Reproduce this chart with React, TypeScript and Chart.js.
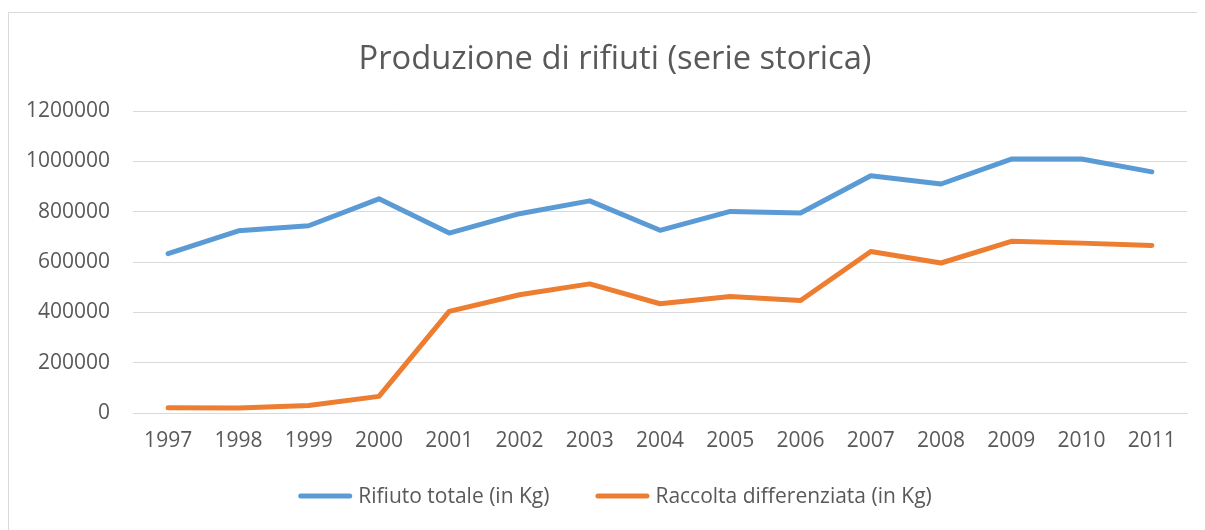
import React, { useEffect, useRef } from "react";
import { Chart, registerables } from "chart.js";

Chart.register(...registerables);

const years = ["1997","1998","1999","2000","2001","2002","2003","2004","2005","2006","2007","2008","2009","2010","2011"];
const rifiutoTotale = [633000, 724000, 744000, 851000, 715000, 792000, 843000, 726000, 801000, 795000, 943000, 910000, 1009000, 1009000, 958000];
const raccoltaDifferenziata = [21000, 20000, 30000, 66000, 404000, 470000, 513000, 434000, 463000, 447000, 642000, 596000, 682000, 675000, 666000];
const titleText = "Produzione di rifiuti (serie storica)";
const seriesLabels = ["Rifiuto totale (in Kg)", "Raccolta differenziata (in Kg)"];

const FONT = "'Open Sans', 'DejaVu Sans', sans-serif";
const TEXT = "#595959";

// Title and legend drawn in the canvas (Excel-style), centred on the whole chart frame
const frameText = {
  id: "frameText",
  afterDraw(chart: any) {
    const ctx = chart.ctx as CanvasRenderingContext2D;
    const cx = 606;
    ctx.save();
    // title
    ctx.font = `32.7px ${FONT}`;
    ctx.fillStyle = TEXT;
    ctx.textAlign = "center";
    ctx.textBaseline = "middle";
    ctx.fillText(titleText, cx, 47);
    // legend
    const fontSize = 21;
    const sample = 54;
    const gapText = 6;
    const gapItems = 46;
    ctx.font = `${fontSize}px ${FONT}`;
    const items = chart.data.datasets.map((ds: any) => ({
      text: ds.label as string,
      color: ds.borderColor as string,
      w: ctx.measureText(ds.label).width,
    }));
    const total = items.reduce((s: number, it: any) => s + sample + gapText + it.w, 0) + gapItems * (items.length - 1);
    let x = cx - total / 2;
    const y = 483;
    items.forEach((it: any) => {
      ctx.strokeStyle = it.color;
      ctx.lineWidth = 5;
      ctx.lineCap = "round";
      ctx.beginPath();
      ctx.moveTo(x + 2.5, y);
      ctx.lineTo(x + sample - 2.5, y);
      ctx.stroke();
      ctx.fillStyle = TEXT;
      ctx.textAlign = "left";
      ctx.textBaseline = "middle";
      ctx.fillText(it.text, x + sample + gapText, y + 1);
      x += sample + gapText + it.w + gapItems;
    });
    ctx.restore();
  },
};

export default function App() {
  const ref = useRef<HTMLCanvasElement | null>(null);
  useEffect(() => {
    if (!ref.current) return;
    const chart = new Chart(ref.current, {
      type: "line",
      data: {
        labels: years,
        datasets: [
          {
            label: seriesLabels[0],
            data: rifiutoTotale,
            borderColor: "#5B9BD5",
            backgroundColor: "#5B9BD5",
            borderWidth: 5,
            pointRadius: 0,
            borderCapStyle: "round",
            borderJoinStyle: "round",
            tension: 0,
          },
          {
            label: seriesLabels[1],
            data: raccoltaDifferenziata,
            borderColor: "#ED7D31",
            backgroundColor: "#ED7D31",
            borderWidth: 5,
            pointRadius: 0,
            borderCapStyle: "round",
            borderJoinStyle: "round",
            tension: 0,
          },
        ],
      },
      options: {
        animation: false,
        responsive: false,
        maintainAspectRatio: false,
        layout: { padding: { left: 0, right: 18, top: 98, bottom: 55 } },
        plugins: {
          title: { display: false },
          legend: { display: false },
          tooltip: { enabled: false },
        },
        scales: {
          x: {
            offset: true,
            afterFit: (s: any) => { s.height = 62; },
            grid: { display: false, drawTicks: false },
            border: { display: true, color: "#d9d9d9", width: 1 },
            ticks: { color: TEXT, font: { family: FONT, size: 21 }, padding: 15, maxRotation: 0 },
          },
          y: {
            min: 0,
            max: 1200000,
            afterFit: (s: any) => { s.width = 124; },
            grid: { color: "#d9d9d9", lineWidth: 1, drawTicks: false },
            border: { display: false },
            ticks: {
              stepSize: 200000,
              color: TEXT,
              font: { family: FONT, size: 21 },
              padding: 23,
              callback: (v: any) => String(v),
            },
          },
        },
      },
      plugins: [frameText],
    } as any);
    return () => chart.destroy();
  }, []);
  return (
    <div style={{ marginTop: 4, width: 1196, height: 517, borderLeft: "1px solid #d9d9d9", borderTop: "1px solid #d9d9d9", background: "#fff" }}>
      <canvas ref={ref} width={1196} height={517} style={{ display: "block", width: 1196, height: 517 }} />
    </div>
  );
}
